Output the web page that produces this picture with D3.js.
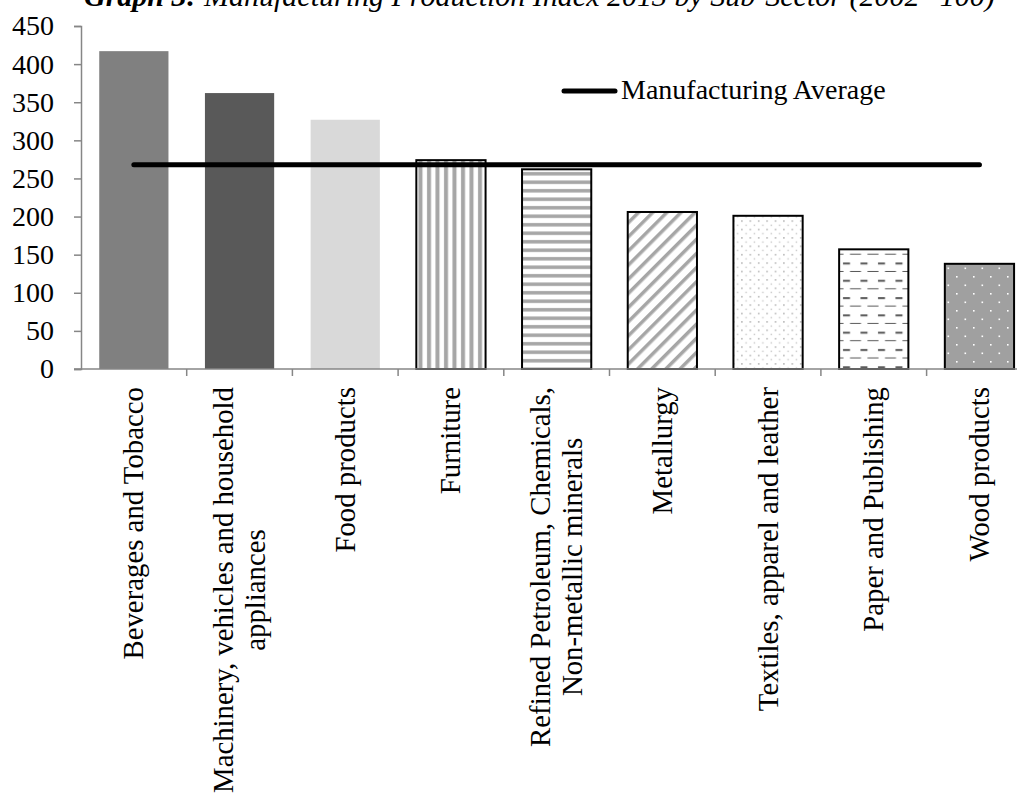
<!DOCTYPE html>
<html>
<head>
<meta charset="utf-8">
<script src="https://cdn.jsdelivr.net/npm/d3@7"></script>
<style>
  body { margin: 0; background: #fff; }
  svg { display: block; font-family: "Liberation Serif", "Times New Roman", serif; }
</style>
</head>
<body>
<svg id="chart" width="1017" height="798"></svg>
<script>
// data
const sectors = [
    ["Beverages and Tobacco"],
    ["Machinery,  vehicles and household", "appliances"],
    ["Food products"],
    ["Furniture"],
    ["Refined Petroleum,  Chemicals,", "Non-metallic minerals"],
    ["Metallurgy"],
    ["Textiles,  apparel and leather"],
    ["Paper and Publishing"],
    ["Wood products"]
];
const indexValues = [417, 362, 327, 274, 262, 206, 201, 157, 138];
const manufacturingAverage = 268;
const yTicks = [0, 50, 100, 150, 200, 250, 300, 350, 400, 450];

const fills = ["#808080", "#595959", "#d9d9d9", "url(#vstripe)", "url(#hstripe)",
               "url(#diag)", "url(#dots)", "url(#dash)", "url(#wood)"];

const svg = d3.select("#chart");
const keys = sectors.map(d => d.join(" "));

const x = d3.scaleBand().domain(keys).range([81, 81 + 9 * 105.7]).paddingInner(0.345).paddingOuter(0.1725);
const y = d3.scaleLinear().domain([0, 450]).range([369, 26]);

// patterns
const defs = svg.append("defs");
const pGray = "#a6a6a6";

let p = defs.append("pattern").attr("id", "vstripe").attr("patternUnits", "userSpaceOnUse").attr("width", 8.5).attr("height", 10);
p.append("rect").attr("width", 8.5).attr("height", 10).attr("fill", "#fff");
p.append("rect").attr("x", 2).attr("width", 4).attr("height", 10).attr("fill", pGray);

p = defs.append("pattern").attr("id", "hstripe").attr("patternUnits", "userSpaceOnUse").attr("width", 10).attr("height", 8.5);
p.append("rect").attr("width", 10).attr("height", 8.5).attr("fill", "#fff");
p.append("rect").attr("y", 2).attr("width", 10).attr("height", 3.5).attr("fill", pGray);

p = defs.append("pattern").attr("id", "diag").attr("patternUnits", "userSpaceOnUse").attr("width", 10).attr("height", 10)
    .attr("patternTransform", "rotate(45)");
p.append("rect").attr("width", 10).attr("height", 10).attr("fill", "#fff");
p.append("rect").attr("x", 0).attr("width", 3.5).attr("height", 10).attr("fill", pGray);

p = defs.append("pattern").attr("id", "dots").attr("patternUnits", "userSpaceOnUse").attr("width", 8.4).attr("height", 8.4);
p.append("rect").attr("width", 8.4).attr("height", 8.4).attr("fill", "#fff");
p.append("rect").attr("x", 2).attr("y", 2).attr("width", 1.4).attr("height", 1.4).attr("fill", pGray);
p.append("rect").attr("x", 6.2).attr("y", 6.2).attr("width", 1.4).attr("height", 1.4).attr("fill", "#c8c8c8");

p = defs.append("pattern").attr("id", "dash").attr("patternUnits", "userSpaceOnUse").attr("width", 17.5).attr("height", 17.3);
p.append("rect").attr("width", 17.5).attr("height", 17.3).attr("fill", "#fff");
p.append("rect").attr("x", 3).attr("y", 3).attr("width", 7).attr("height", 2).attr("fill", "#595959");
p.append("rect").attr("x", 10).attr("y", 11.5).attr("width", 11).attr("height", 1).attr("fill", "#595959");
p.append("rect").attr("x", -7.5).attr("y", 11.5).attr("width", 11).attr("height", 1).attr("fill", "#595959");

p = defs.append("pattern").attr("id", "wood").attr("patternUnits", "userSpaceOnUse").attr("width", 17).attr("height", 17);
p.append("rect").attr("width", 17).attr("height", 17).attr("fill", "#a0a0a0");
p.append("rect").attr("x", 4).attr("y", 4).attr("width", 1.6).attr("height", 1.6).attr("fill", "#fff");
p.append("rect").attr("x", 12.5).attr("y", 12.5).attr("width", 1.6).attr("height", 1.6).attr("fill", "#fff");

// title (mostly cut off at top, as in the source)
const title = svg.append("text").attr("x", 84).attr("y", 6).attr("font-size", 30).attr("font-style", "italic");
title.append("tspan").attr("font-weight", "bold").text("Graph 3:");
title.append("tspan").text(" Manufacturing Production Index 2013 by Sub-Sector (2002=100)");

// bars
svg.append("g").selectAll("rect")
    .data(indexValues).join("rect")
    .attr("x", (d, i) => x(keys[i]))
    .attr("y", d => y(d))
    .attr("width", x.bandwidth())
    .attr("height", d => y(0) - y(d))
    .attr("fill", (d, i) => fills[i])
    .attr("stroke", (d, i) => i >= 3 ? "#000" : "none")
    .attr("stroke-width", 2);

// y axis
const yAxis = svg.append("g").attr("transform", "translate(81,0)")
    .call(d3.axisLeft(y).tickValues(yTicks).tickSize(7).tickPadding(20));
yAxis.selectAll("path, line").attr("stroke", "#868686").attr("stroke-width", 1.5);
yAxis.selectAll("text").attr("font-size", 28).attr("fill", "#000")
    .attr("font-family", "Liberation Serif, serif");

// x axis line + ticks between categories
const xAxisG = svg.append("g");
xAxisG.append("line").attr("x1", 74).attr("x2", 1017).attr("y1", y(0)).attr("y2", y(0))
    .attr("stroke", "#868686").attr("stroke-width", 1.5);
xAxisG.selectAll("line.tick")
    .data(d3.range(1, 10)).join("line").attr("class", "tick")
    .attr("x1", i => 81 + i * x.step()).attr("x2", i => 81 + i * x.step())
    .attr("y1", y(0)).attr("y2", y(0) + 7)
    .attr("stroke", "#868686").attr("stroke-width", 1.5);

// category labels, rotated
const lineGap = 32;
sectors.forEach((lines, i) => {
    const cx = x(keys[i]) + x.bandwidth() / 2;
    const g = svg.append("g").attr("transform", `translate(${cx},387) rotate(-90)`);
    const texts = lines.map((t, j) => g.append("text")
        .attr("font-size", 28.8)
        .attr("text-anchor", "middle")
        .attr("y", 9.5 + (j - (lines.length - 1) / 2) * lineGap)
        .text(t));
    const maxW = d3.max(texts, t => t.node().getComputedTextLength());
    texts.forEach(t => t.attr("x", -maxW / 2));
});

// manufacturing average line
svg.append("line")
    .attr("x1", x(keys[0]) + x.bandwidth() / 2)
    .attr("x2", x(keys[8]) + x.bandwidth() / 2)
    .attr("y1", y(manufacturingAverage)).attr("y2", y(manufacturingAverage))
    .attr("stroke", "#000").attr("stroke-width", 5).attr("stroke-linecap", "round");

// legend
svg.append("line").attr("x1", 564).attr("x2", 615).attr("y1", 91).attr("y2", 91)
    .attr("stroke", "#000").attr("stroke-width", 5).attr("stroke-linecap", "round");
svg.append("text").attr("x", 621).attr("y", 99).attr("font-size", 28).text("Manufacturing Average");
</script>
</body>
</html>
